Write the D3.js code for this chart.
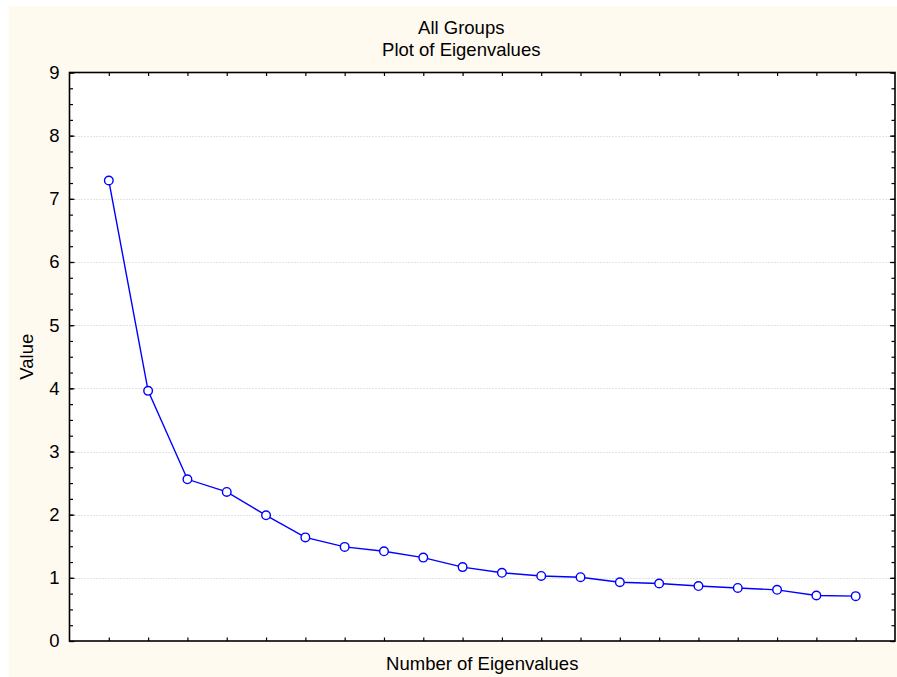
<!DOCTYPE html>
<html><head><meta charset="utf-8">
<script src="https://cdn.jsdelivr.net/npm/d3@7"></script>
<style>
html,body{margin:0;padding:0;background:#fff;}
text{font-family:"Liberation Sans",Arial,sans-serif;}
</style></head>
<body>
<svg id="chart" width="897" height="677"></svg>
<script>
const titleLines = ["All Groups", "Plot of Eigenvalues"];
const xLabel = "Number of Eigenvalues";
const yLabel = "Value";
const eigenIndex = d3.range(1, 21);
const eigenValues = [7.29, 3.96, 2.56, 2.36, 1.99, 1.64, 1.49, 1.42, 1.32, 1.17,
                     1.08, 1.03, 1.01, 0.93, 0.91, 0.87, 0.84, 0.81, 0.72, 0.71];
const yTicks = [0, 1, 2, 3, 4, 5, 6, 7, 8, 9];

const svg = d3.select("#chart");
const W = 897, H = 677;
const plot = {left: 69.5, top: 72.5, right: 895, bottom: 641};
const fs = 18.5;

svg.append("rect").attr("x", 9).attr("y", 6).attr("width", W - 9).attr("height", H - 6)
  .attr("fill", "#fffaf0");

const x = d3.scaleLinear().domain([0, 21]).range([plot.left, plot.right]);
const y = d3.scaleLinear().domain([0, 9]).range([plot.bottom, plot.top]);

svg.append("rect").attr("x", plot.left).attr("y", plot.top)
  .attr("width", plot.right - plot.left).attr("height", plot.bottom - plot.top)
  .attr("fill", "#fff");

// grid
svg.append("g").selectAll("line").data(yTicks.filter(d => d > 0 && d < 9)).join("line")
  .attr("x1", plot.left).attr("x2", plot.right)
  .attr("y1", d => Math.round(y(d)) + 0.5).attr("y2", d => Math.round(y(d)) + 0.5)
  .attr("stroke", "#c8c8c8").attr("stroke-width", 1).attr("stroke-dasharray", "1,2");

const minorVals = d3.range(0, 36.5).map(i => i * 0.25);

function styleAxis(g) {
  g.select(".domain").remove();
  g.selectAll(".tick line").attr("stroke", "#000").attr("stroke-width", 1.2);
  g.selectAll(".tick text").attr("font-size", fs).attr("fill", "#000")
    .attr("font-family", "Liberation Sans, Arial, sans-serif");
}

// left minor ticks
svg.append("g").attr("transform", `translate(${plot.left},0)`)
  .call(d3.axisLeft(y).tickValues(minorVals).tickFormat("").tickSize(-3.5))
  .call(styleAxis);
// left major ticks + labels
svg.append("g").attr("transform", `translate(${plot.left},0)`)
  .call(d3.axisLeft(y).tickValues(yTicks).tickFormat(d3.format("d")).tickSize(-5).tickPadding(10))
  .call(styleAxis);
// right ticks
svg.append("g").attr("transform", `translate(${plot.right},0)`)
  .call(d3.axisRight(y).tickValues(minorVals).tickFormat("").tickSize(-3.5))
  .call(styleAxis);
svg.append("g").attr("transform", `translate(${plot.right},0)`)
  .call(d3.axisRight(y).tickValues(yTicks).tickFormat("").tickSize(-5))
  .call(styleAxis);
// bottom / top ticks
svg.append("g").attr("transform", `translate(0,${plot.bottom})`)
  .call(d3.axisBottom(x).tickValues(eigenIndex).tickFormat("").tickSize(-3.5))
  .call(styleAxis);
svg.append("g").attr("transform", `translate(0,${plot.top})`)
  .call(d3.axisTop(x).tickValues(eigenIndex).tickFormat("").tickSize(-3.5))
  .call(styleAxis);

// frame
svg.append("rect").attr("x", plot.left).attr("y", plot.top)
  .attr("width", plot.right - plot.left).attr("height", plot.bottom - plot.top)
  .attr("fill", "none").attr("stroke", "#000").attr("stroke-width", 1.6);

// line
const pts = eigenIndex.map((d, i) => [d, eigenValues[i]]);
svg.append("path").datum(pts)
  .attr("d", d3.line().x(d => x(d[0])).y(d => y(d[1])))
  .attr("fill", "none").attr("stroke", "#0000ff").attr("stroke-width", 1.4);
svg.append("g").selectAll("circle").data(pts).join("circle")
  .attr("cx", d => x(d[0])).attr("cy", d => y(d[1])).attr("r", 4.3)
  .attr("fill", "#fff").attr("stroke", "#0000ff").attr("stroke-width", 1.4);

// titles
const cx = (plot.left + plot.right) / 2;
svg.append("g").selectAll("text").data(titleLines).join("text")
  .attr("x", cx - 21).attr("y", (d, i) => 34 + i * 21.5)
  .attr("text-anchor", "middle").attr("font-size", fs).attr("fill", "#000")
  .text(d => d);
svg.append("text").attr("x", cx).attr("y", 670)
  .attr("text-anchor", "middle").attr("font-size", fs).attr("fill", "#000")
  .text(xLabel);
svg.append("text").attr("transform", `translate(33,${(plot.top + plot.bottom) / 2}) rotate(-90)`)
  .attr("text-anchor", "middle").attr("font-size", fs).attr("fill", "#000")
  .text(yLabel);
</script>
</body></html>
